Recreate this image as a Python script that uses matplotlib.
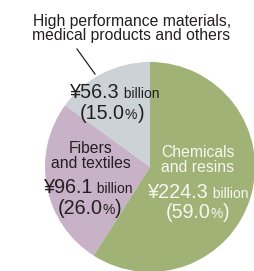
import matplotlib
matplotlib.use("Agg")
import matplotlib.pyplot as plt

# ---- data ----
segments = ["High performance materials,\nmedical products and others",
            "Fibers\nand textiles",
            "Chemicals\nand resins"]
amounts = [56.3, 96.1, 224.3]          # billion yen
shares = [15.0, 26.0, 59.0]            # percent
colors = ["#cdd2d6", "#c8b2c8", "#a1b277"]

DARK = "#231f20"
LIGHT = "#f7f7f0"
FONT = "Liberation Sans"
plt.rcParams['font.family'] = [FONT, 'DejaVu Sans']

fig = plt.figure(figsize=(2.55, 2.71), dpi=100)
ax = fig.add_axes([0, 0, 1, 1])

ax.pie(shares, colors=colors, startangle=270, counterclock=False,
       center=(150, 167), radius=105, wedgeprops=dict(linewidth=0))
ax.set_xlim(0, 255)
ax.set_ylim(271, 0)
ax.set_aspect('auto')
ax.axis('off')

fig.canvas.draw()
renderer = fig.canvas.get_renderer()


def rich_line(xc, yb, parts, color):
    """Draw a line of mixed-size text centred at xc with baseline yb (pixels)."""
    objs = []
    widths = []
    for s, size in parts:
        t = ax.text(0, yb, s, fontsize=size, color=color, va='baseline',
                    ha='left', family=FONT)
        w = t.get_window_extent(renderer).width
        objs.append(t)
        widths.append(w)
    total = sum(widths)
    x = xc - total / 2
    for t, w in zip(objs, widths):
        t.set_x(x)
        x += w


LBL = 11.3
BIG = 14.2
SML = 10.0

# title (outside label for smallest segment)
title_lines = segments[0].split("\n")
rich_line(132, 26, [(title_lines[0], LBL)], DARK)
rich_line(131, 40, [(title_lines[1], LBL)], DARK)
ax.plot([77, 95], [49, 74], color=DARK, lw=0.9)

# small segment values
rich_line(115, 98, [(f"¥{amounts[0]}", BIG), (" billion", SML)], DARK)
rich_line(112, 119, [(f"({shares[0]:.1f}", BIG), ("%", SML), (")", BIG)], DARK)

# fibers
f_lines = segments[1].split("\n")
rich_line(91, 153, [(f_lines[0], LBL)], DARK)
rich_line(90.5, 168, [(f_lines[1], LBL)], DARK)
rich_line(88.5, 193, [(f"¥{amounts[1]}", BIG), (" billion", SML)], DARK)
rich_line(89.5, 214, [(f"({shares[1]:.1f}", BIG), ("%", SML), (")", BIG)], DARK)

# chemicals
c_lines = segments[2].split("\n")
rich_line(198, 157, [(c_lines[0], LBL)], LIGHT)
rich_line(197.5, 172, [(c_lines[1], LBL)], LIGHT)
rich_line(198.5, 198, [(f"¥{amounts[2]}", BIG), (" billion", SML)], LIGHT)
rich_line(197.5, 218, [(f"({shares[2]:.1f}", BIG), ("%", SML), (")", BIG)], LIGHT)

fig.savefig("out.png", dpi=100)
